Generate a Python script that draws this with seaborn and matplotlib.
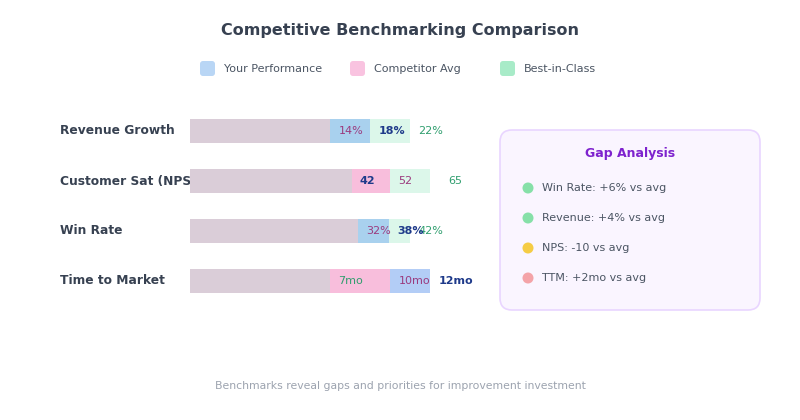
import matplotlib
matplotlib.use("Agg")
import matplotlib.pyplot as plt
import seaborn as sns
import pandas as pd
from matplotlib.patches import FancyBboxPatch, Circle, Rectangle

sns.set_theme(style="white")
plt.rcParams['font.family'] = ['DejaVu Sans']

metrics = ["Revenue Growth", "Customer Sat (NPS)", "Win Rate", "Time to Market"]
yours = [18, 42, 38, 12]
competitor = [14, 52, 32, 10]
best = [22, 65, 42, 7]
units = ["%", "", "%", "mo"]
row_max = [24, 62.4, 45.8, 12]
gap_items = ["Win Rate: +6% vs avg", "Revenue: +4% vs avg", "NPS: -10 vs avg", "TTM: +2mo vs avg"]
gap_colors = ["#86e0a8", "#86e0a8", "#f5cc45", "#f4a3a8"]

fig = plt.figure(figsize=(8, 4.2), dpi=100)
W, H = 800, 420
ax = fig.add_axes([190 / W, 1 - 306 / H, 240 / W, 200 / H])
ax.set_xlim(0, 1)
ax.set_ylim(3.5, -0.5)
ax.axis("off")

series = {"yours": yours, "comp": competitor, "best": best}
fill = {"yours": "#a9d1ee", "comp": "#f8bedc", "best": "#dcf7ea"}
fill_ttm_yours = "#b3cdf6"
lab_col = {"yours": "#1e3a8a", "comp": "#9b3a7e", "best": "#2f9e6e"}

rows = []
for i, m in enumerate(metrics):
    for k, vals in series.items():
        rows.append(dict(metric=m, key=k, val=vals[i], norm=vals[i] / row_max[i], idx=i))
df = pd.DataFrame(rows)

# overlay axes for decorations in pixel coords
ov = fig.add_axes([0, 0, 1, 1], zorder=-1)
ov.set_xlim(0, W); ov.set_ylim(H, 0); ov.axis("off")
clip = Rectangle((0, 0), 189, H, transform=ov.transData, visible=False)
ov.add_patch(clip)

for i, m in enumerate(metrics):
    sub = df[df.idx == i].sort_values("norm", ascending=False)
    ordered = list(sub.itertuples())
    for j, r in enumerate(ordered):
        if j == len(ordered) - 1:
            col = "#dacdd8"
        else:
            col = fill[r.key]
            if r.key == "yours" and i == 3:
                col = fill_ttm_yours
        ax.barh(i, r.norm, height=0.48, color=col, edgecolor="none", zorder=2 + j)
    for r in ordered:
        w = "bold" if r.key == "yours" else "normal"
        ax.text(r.norm + 0.035, i, f"{r.val}{units[i]}", va="center", ha="left",
                fontsize=8, color=lab_col[r.key], fontweight=w, zorder=10, clip_on=False)
    t = ov.text(60, 131 + 50 * i, m, va="center", ha="left", fontsize=8.8, fontweight="bold",
                color="#374151")
    t.set_clip_path(clip)

fig.text(0.5, 1 - 30 / H, "Competitive Benchmarking Comparison", ha="center", va="center",
         fontsize=11.5, fontweight="bold", color="#374151")
leg = [("Your Performance", "#b9d6f5", 200), ("Competitor Avg", "#f9c3e0", 350), ("Best-in-Class", "#a8ebc8", 500)]
for name, c, x in leg:
    ov.add_patch(FancyBboxPatch((x, 61), 15, 15, boxstyle="round,pad=0,rounding_size=3",
                                facecolor=c, edgecolor="none"))
    ov.text(x + 24, 69, name, va="center", ha="left", fontsize=8, color="#4b5563")

ov.add_patch(FancyBboxPatch((500, 130), 260, 180, boxstyle="round,pad=0,rounding_size=12",
                            facecolor="#faf5ff", edgecolor="#e9d5ff", linewidth=1.2))
ov.text(630, 154, "Gap Analysis", ha="center", va="center", fontsize=9,
        fontweight="bold", color="#7e22ce")
for k, (t, c) in enumerate(zip(gap_items, gap_colors)):
    y = 188 + 30 * k
    ov.add_patch(Circle((528, y), 5.5, facecolor=c, edgecolor="none"))
    ov.text(542, y, t, va="center", ha="left", fontsize=8, color="#4b5563")

fig.text(0.5, 1 - 386 / H, "Benchmarks reveal gaps and priorities for improvement investment",
         ha="center", va="center", fontsize=7.8, color="#9ca3af")
fig.savefig("out.png", dpi=100, facecolor="white")
